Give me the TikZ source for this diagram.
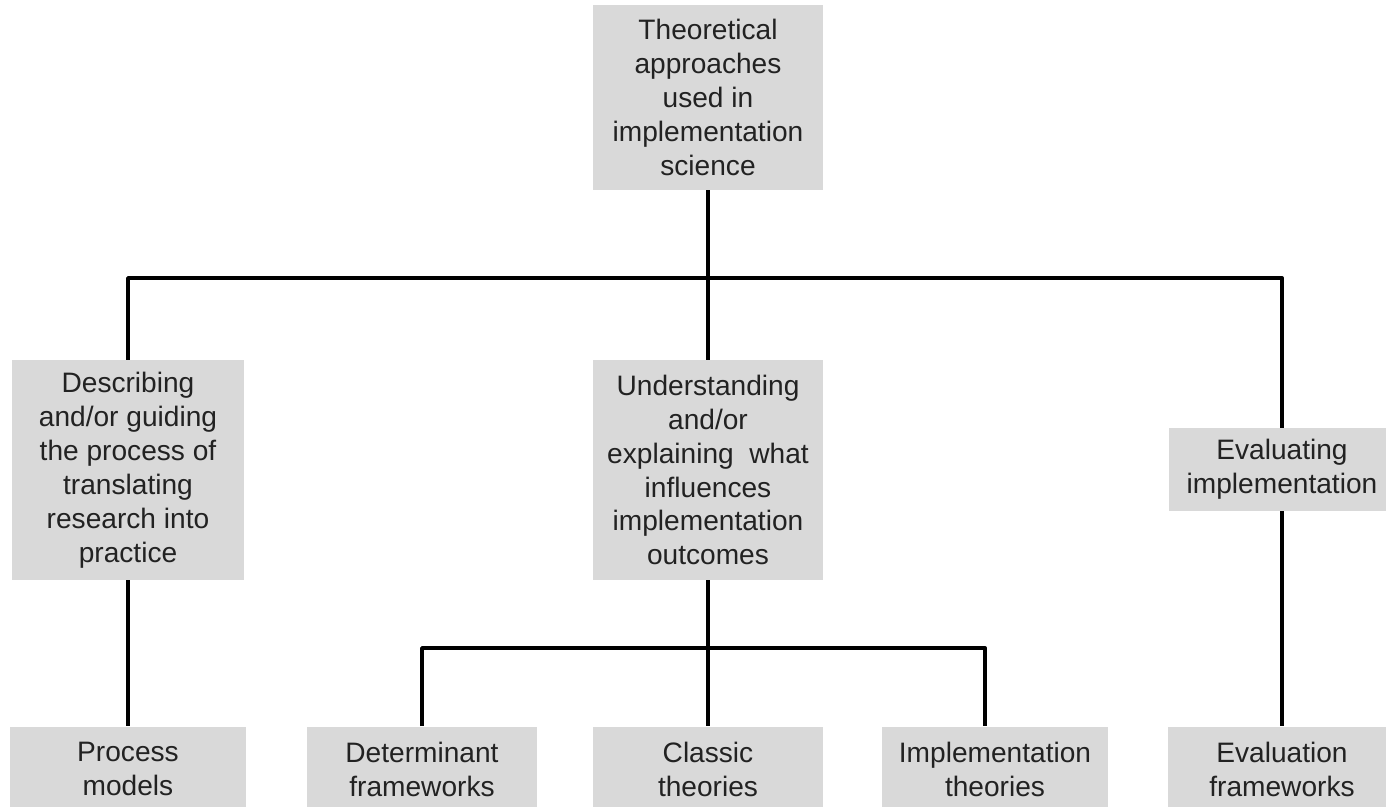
\documentclass[tikz,border=0pt]{standalone}
\usepackage{fontspec}
\setmainfont{Liberation Sans}
\definecolor{boxgray}{HTML}{D9D9D9}
\definecolor{inkgray}{HTML}{222222}
\tikzset{
	box/.style={fill=boxgray, text=inkgray, align=center, inner sep=0pt, font=\fontsize{16}{19.3}\selectfont},
	wire/.style={line width=2.2pt, line join=round}
}

\begin{document}
\begin{tikzpicture}[x=0.02cm, y=-0.02cm]
				\useasboundingbox (0,0) rectangle (1386,807);
				\clip (0,0) rectangle (1386,807);
				% Boxes:
				\node[box, minimum width=4.6cm, minimum height=3.7cm] (top) at (708, 97.5){Theoretical\\approaches\\used in\\implementation\\science};
				\node[box, minimum width=4.66cm, minimum height=4.4cm] (desc) at (128, 470){Describing\\and/or guiding\\the process of\\translating\\research into\\practice};
				\node[box, minimum width=4.6cm, minimum height=4.4cm] (und) at (708, 470){Understanding\\and/or\\explaining\ \ what\\influences\\implementation\\outcomes};
				\node[box, minimum width=4.52cm, minimum height=1.66cm] (eval) at (1282, 469.5){Evaluating\\implementation};
				\node[box, minimum width=4.72cm, minimum height=1.7cm] (proc) at (128, 769){Process\\models};
				\node[box, minimum width=4.6cm, minimum height=1.7cm] (det) at (422, 769){Determinant\\frameworks};
				\node[box, minimum width=4.6cm, minimum height=1.7cm] (classic) at (708, 769){Classic\\theories};
				\node[box, minimum width=4.54cm, minimum height=1.7cm] (impl) at (995, 769){Implementation\\theories};
				\node[box, minimum width=4.56cm, minimum height=1.7cm] (evalfw) at (1282, 769){Evaluation\\frameworks};
				% Wires:
				\coordinate (bar1) at (0, 278);
				\coordinate (bar2) at (0, 648);
				\draw[wire] (top.south) -- (top.south |- bar1);
				\draw[wire] (desc.north) |- (eval.north |- bar1) -- (eval.north);
				\draw[wire] (und.north) -- (und.north |- bar1);
				\draw[wire] (desc.south) -- (proc.north);
				\draw[wire] (und.south) -- (classic.north);
				\draw[wire] (det.north) |- ([xshift=-0.2cm]impl.north |- bar2) -- ([xshift=-0.2cm]impl.north);
				\draw[wire] (eval.south) -- (evalfw.north);
			\end{tikzpicture}
\end{document}
